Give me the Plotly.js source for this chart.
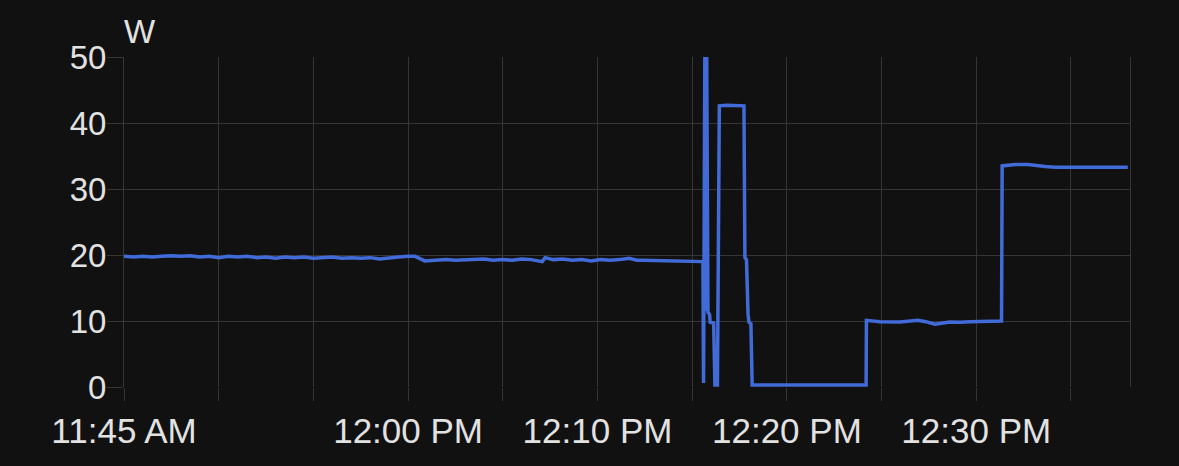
<!DOCTYPE html>
<html>
<head>
<meta charset="utf-8">
<script src="https://cdn.plot.ly/plotly-3.0.1.min.js"></script>
<style>
html,body{margin:0;padding:0;background:#111111;}
#chart{width:1179px;height:466px;}
</style>
</head>
<body>
<div id="chart"></div>
<script>
const day = '2024-01-01 ';
const times = [
  '11:45:00','11:45:30','11:46:00','11:46:30','11:47:00','11:47:30','11:48:00','11:48:30','11:49:00','11:49:30',
  '11:50:00','11:50:30','11:51:00','11:51:30','11:52:00','11:52:30','11:53:00','11:53:30','11:54:00','11:54:30',
  '11:55:00','11:55:30','11:56:00','11:56:30','11:57:00','11:57:30','11:58:00','11:58:30','11:59:00','11:59:30',
  '12:00:00','12:00:22','12:00:53','12:01:30','12:02:00','12:02:30','12:03:00','12:03:30','12:04:00','12:04:30',
  '12:05:00','12:05:30','12:06:00','12:06:30','12:07:05','12:07:14','12:07:40','12:08:10','12:08:40','12:09:10',
  '12:09:40','12:10:10','12:10:40','12:11:10','12:11:40','12:12:05','12:12:24',
  '12:15:34','12:15:36','12:15:40','12:15:43','12:15:46','12:15:50','12:15:55','12:15:57','12:16:08','12:16:12',
  '12:16:20','12:16:26','12:16:50','12:17:20','12:17:44','12:17:47','12:17:52',
  '12:17:57','12:18:00','12:18:06','12:18:10',
  '12:20:00','12:22:00','12:24:11','12:24:12','12:24:55','12:25:58','12:26:55','12:27:20','12:27:49','12:28:36',
  '12:29:10','12:29:40','12:30:27','12:31:15','12:31:20','12:31:22','12:32:03','12:32:44','12:33:10','12:33:38',
  '12:34:10','12:34:41','12:35:22','12:36:00','12:36:48','12:37:20','12:38:00'
];
const watts = [
  19.8,19.7,19.8,19.7,19.8,19.9,19.8,19.9,19.7,19.8,
  19.6,19.8,19.7,19.8,19.6,19.7,19.5,19.7,19.6,19.7,
  19.5,19.6,19.7,19.5,19.6,19.5,19.6,19.4,19.6,19.7,
  19.8,19.8,19.1,19.2,19.3,19.2,19.3,19.3,19.4,19.2,
  19.3,19.2,19.4,19.3,19.0,19.6,19.3,19.4,19.2,19.3,
  19.1,19.3,19.2,19.3,19.5,19.2,19.2,
  19.0,0.6,50.0,11.5,50.0,11.3,11.0,9.8,9.7,0.3,
  0.3,42.6,42.7,42.6,42.6,19.6,19.3,
  11.0,9.8,9.6,0.3,
  0.3,0.3,0.3,10.1,9.9,9.85,10.1,9.9,9.5,9.85,
  9.8,9.9,9.9,10.0,10.0,33.5,33.7,33.7,33.5,33.4,
  33.3,33.3,33.2,33.3,33.3,33.2,33.3
];
const tickVals = ['11:45','11:50','11:55','12:00','12:05','12:10','12:15','12:20','12:25','12:30','12:35'];
const tickLabels = ['11:45 AM','','','12:00 PM','','12:10 PM','','12:20 PM','','12:30 PM',''];
const yTicks = [0,10,20,30,40,50];
const unitLabel = 'W';

const gridColor = '#363636';
const textColor = '#e2e2e2';
const fontFam = '"Liberation Sans", Arial, sans-serif';

Plotly.newPlot('chart', [{
  x: times.map(t => day + t),
  y: watts,
  type: 'scatter',
  mode: 'lines',
  line: {color: '#416bd8', width: 3.5, shape: 'linear'},
  hoverinfo: 'skip'
}], {
  width: 1179, height: 466,
  margin: {l: 124, r: 49, t: 57, b: 79, pad: 0},
  paper_bgcolor: '#111111',
  plot_bgcolor: '#111111',
  showlegend: false,
  font: {family: fontFam, color: textColor},
  xaxis: {
    type: 'date',
    range: [day + '11:45:00', day + '12:38:07'],
    tickvals: tickVals.map(t => day + t + ':00'),
    ticktext: tickLabels,
    showgrid: true, gridcolor: gridColor, gridwidth: 1,
    ticks: 'outside', ticklen: 13, tickcolor: gridColor, tickwidth: 1,
    ticklabelstandoff: 0,
    tickfont: {size: 35, color: textColor, family: fontFam},
    zeroline: false, showline: false
  },
  yaxis: {
    range: [0, 50],
    tickvals: yTicks,
    ticktext: yTicks.map(String),
    showgrid: true, gridcolor: gridColor, gridwidth: 1,
    ticks: 'outside', ticklen: 16, tickcolor: gridColor, tickwidth: 1,
    ticklabelstandoff: -6,
    tickfont: {size: 33, color: textColor, family: fontFam},
    zeroline: false,
    showline: true, mirror: true, linecolor: gridColor, linewidth: 1
  },
  annotations: [{
    text: unitLabel, xref: 'paper', yref: 'paper', x: 0, y: 1,
    xanchor: 'left', yanchor: 'bottom', showarrow: false, yshift: 5, xshift: -2,
    font: {size: 33, color: textColor, family: fontFam}
  }]
}, {displayModeBar: false, staticPlot: true});
</script>
</body>
</html>
